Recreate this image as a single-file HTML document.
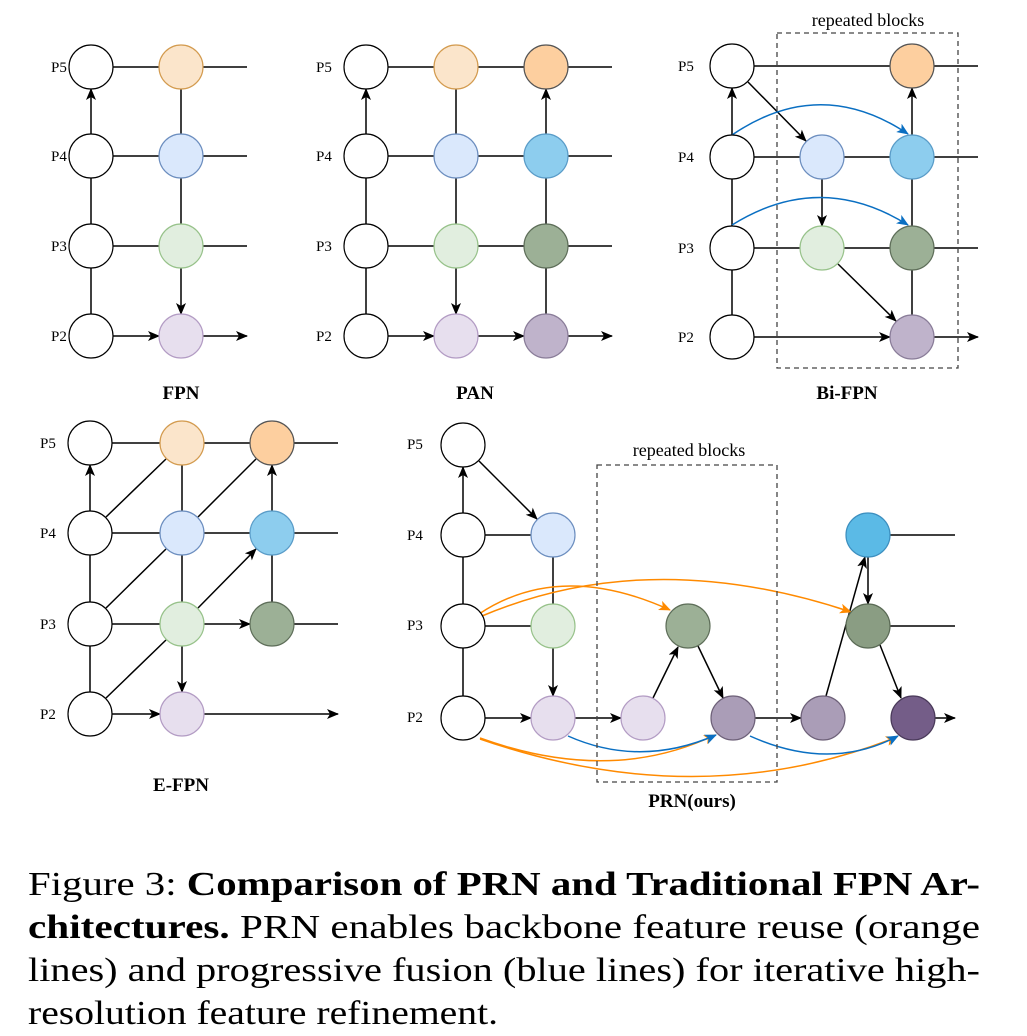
<!DOCTYPE html>
<html><head><meta charset="utf-8"><style>
html,body{margin:0;padding:0;background:#fff;}
svg{display:block;font-family:"Liberation Serif",serif;}
</style></head><body>
<svg width="1027" height="1036" viewBox="0 0 1027 1036" xmlns="http://www.w3.org/2000/svg">
<defs>
<marker id="a" markerWidth="12" markerHeight="10" refX="11" refY="5" orient="auto" markerUnits="userSpaceOnUse"><path d="M0,0 L12,5 L0,10 L3,5 Z" fill="#000"/></marker>
<marker id="ao" markerWidth="12" markerHeight="10" refX="11" refY="5" orient="auto" markerUnits="userSpaceOnUse"><path d="M0,0 L12,5 L0,10 L3,5 Z" fill="#ff8a00"/></marker>
<marker id="ab" markerWidth="12" markerHeight="10" refX="11" refY="5" orient="auto" markerUnits="userSpaceOnUse"><path d="M0,0 L12,5 L0,10 L3,5 Z" fill="#0a6fc2"/></marker>
</defs>
<g stroke="#000" stroke-width="1.5" fill="none" marker-end="url(#a)">
<!-- FPN -->
<path d="M91,314V268M91,224V178M91,134V89"/>
<path d="M113,67H159M113,156H159M113,246H159M113,336H159"/>
<path d="M181,89V134M181,178V224M181,268V314"/>
<path d="M203,67H247M203,156H247M203,246H247M203,336H247"/>
<!-- PAN -->
<path d="M366,314V268M366,224V178M366,134V89"/>
<path d="M388,67H434M388,156H434M388,246H434M388,336H434"/>
<path d="M456,89V134M456,178V224M456,268V314"/>
<path d="M478,67H524M478,156H524M478,246H524M478,336H524"/>
<path d="M546,314V268M546,224V178M546,134V89"/>
<path d="M568,67H612M568,156H612M568,246H612M568,336H612"/>
<!-- BiFPN -->
<path d="M732,315V270M732,226V179M732,135V88"/>
<path d="M754,66H890M754,157H800M844,157H890M754,248H800M844,248H890M754,337H890"/>
<path d="M748,82L806,141"/>
<path d="M822,179V226"/>
<path d="M838,264L896,321"/>
<path d="M912,315V270M912,226V179M912,135V88"/>
<path d="M934,66H978M934,157H978M934,248H978M934,337H978"/>
<!-- E-FPN -->
<path d="M90,692V646M90,602V555M90,511V465"/>
<path d="M112,443H160M112,533H160M112,624H160M112,714H160"/>
<path d="M204,443H250M204,533H250M204,624H250"/>
<path d="M294,443H338M294,533H338M294,624H338M204,714H338"/>
<path d="M182,465V511M182,555V602M182,646V692"/>
<path d="M272,602V555M272,511V465"/>
<path d="M106,517L166,459M106,608L166,549M106,698L166,640M198,517L256,459M198,608L256,549"/>
<!-- PRN -->
<path d="M463,696V648M463,604V557M463,513V467"/>
<path d="M479,461L537,519"/>
<path d="M485,535H531M485,626H531M485,718H531"/>
<path d="M553,557V604M553,648V696"/>
<path d="M575,718H621"/>
<path d="M653,698L678,647"/>
<path d="M698,646L723,698"/>
<path d="M755,718H801"/>
<path d="M826,696L865,557"/>
<path d="M868,557V604"/>
<path d="M880,645L901,698"/>
<path d="M890,535H955M890,626H955M935,718H955"/>
</g>
<!-- curves -->
<g fill="none" stroke-width="1.5">
<path d="M732,135Q820,75 908,134" stroke="#0a6fc2" marker-end="url(#ab)"/>
<path d="M732,225Q820,170 908,225" stroke="#0a6fc2" marker-end="url(#ab)"/>
<path d="M479,614Q560,560 670,610" stroke="#ff8a00" marker-end="url(#ao)"/>
<path d="M482,616Q650,545 851,612" stroke="#ff8a00" marker-end="url(#ao)"/>
<path d="M480,738Q610,785 715,735" stroke="#ff8a00" marker-end="url(#ao)"/>
<path d="M480,739Q700,815 897,737" stroke="#ff8a00" marker-end="url(#ao)"/>
<path d="M568,736Q640,768 716,735" stroke="#0a6fc2" marker-end="url(#ab)"/>
<path d="M750,736Q830,772 898,736" stroke="#0a6fc2" marker-end="url(#ab)"/>
</g>
<!-- dashed boxes -->
<g fill="none" stroke="#444" stroke-width="1.3" stroke-dasharray="5,4">
<rect x="777" y="33" width="181" height="335"/>
<rect x="597" y="465" width="180" height="317"/>
</g>
<!-- nodes -->
<g stroke-width="1.2">
<g fill="#fff" stroke="#000">
<circle cx="91" cy="67" r="22"/><circle cx="91" cy="156" r="22"/><circle cx="91" cy="246" r="22"/><circle cx="91" cy="336" r="22"/>
<circle cx="366" cy="67" r="22"/><circle cx="366" cy="156" r="22"/><circle cx="366" cy="246" r="22"/><circle cx="366" cy="336" r="22"/>
<circle cx="732" cy="66" r="22"/><circle cx="732" cy="157" r="22"/><circle cx="732" cy="248" r="22"/><circle cx="732" cy="337" r="22"/>
<circle cx="90" cy="443" r="22"/><circle cx="90" cy="533" r="22"/><circle cx="90" cy="624" r="22"/><circle cx="90" cy="714" r="22"/>
<circle cx="463" cy="445" r="22"/><circle cx="463" cy="535" r="22"/><circle cx="463" cy="626" r="22"/><circle cx="463" cy="718" r="22"/>
</g>
<g fill="#fbe5cb" stroke="#d39b4f"><circle cx="181" cy="67" r="22"/><circle cx="456" cy="67" r="22"/><circle cx="182" cy="443" r="22"/></g>
<g fill="#dae8fc" stroke="#6c8ebf"><circle cx="181" cy="156" r="22"/><circle cx="456" cy="156" r="22"/><circle cx="822" cy="157" r="22"/><circle cx="182" cy="533" r="22"/><circle cx="553" cy="535" r="22"/></g>
<g fill="#e1eedf" stroke="#97c28a"><circle cx="181" cy="246" r="22"/><circle cx="456" cy="246" r="22"/><circle cx="822" cy="248" r="22"/><circle cx="182" cy="624" r="22"/><circle cx="553" cy="626" r="22"/></g>
<g fill="#e7dfee" stroke="#b39cc4"><circle cx="181" cy="336" r="22"/><circle cx="456" cy="336" r="22"/><circle cx="182" cy="714" r="22"/><circle cx="553" cy="718" r="22"/><circle cx="643" cy="718" r="22"/></g>
<g fill="#fdcf9f" stroke="#555"><circle cx="546" cy="67" r="22"/><circle cx="912" cy="66" r="22"/><circle cx="272" cy="443" r="22"/></g>
<g fill="#8dcdee" stroke="#5a9cc8"><circle cx="546" cy="156" r="22"/><circle cx="912" cy="157" r="22"/><circle cx="272" cy="533" r="22"/></g>
<g fill="#9cb096" stroke="#5e6e59"><circle cx="546" cy="246" r="22"/><circle cx="912" cy="248" r="22"/><circle cx="272" cy="624" r="22"/><circle cx="688" cy="626" r="22"/></g>
<g fill="#bfb3cb" stroke="#8a7d99"><circle cx="546" cy="336" r="22"/><circle cx="912" cy="337" r="22"/></g>
<g fill="#aa9db7" stroke="#6e6179"><circle cx="733" cy="718" r="22"/><circle cx="823" cy="718" r="22"/></g>
<circle cx="868" cy="535" r="22" fill="#5bbae6" stroke="#3d8fbf"/>
<circle cx="868" cy="626" r="22" fill="#8a9d83" stroke="#5a6a55"/>
<circle cx="913" cy="718" r="22" fill="#745d88" stroke="#4a3a5a"/>
</g>
<!-- labels -->
<g font-size="15" fill="#000">
<text x="51" y="72">P5</text><text x="51" y="161">P4</text><text x="51" y="251">P3</text><text x="51" y="341">P2</text>
<text x="316" y="72">P5</text><text x="316" y="161">P4</text><text x="316" y="251">P3</text><text x="316" y="341">P2</text>
<text x="678" y="71">P5</text><text x="678" y="162">P4</text><text x="678" y="253">P3</text><text x="678" y="342">P2</text>
<text x="40" y="448">P5</text><text x="40" y="538">P4</text><text x="40" y="629">P3</text><text x="40" y="719">P2</text>
<text x="407" y="449">P5</text><text x="407" y="540">P4</text><text x="407" y="630">P3</text><text x="407" y="722">P2</text>
</g>
<g font-size="18" text-anchor="middle">
<text x="868" y="26">repeated blocks</text>
<text x="689" y="456">repeated blocks</text>
</g>
<g font-size="19" font-weight="bold" text-anchor="middle">
<text x="181" y="399">FPN</text><text x="475" y="399">PAN</text><text x="847" y="399">Bi-FPN</text>
<text x="181" y="791">E-FPN</text><text x="692" y="807">PRN(ours)</text>
</g>
<g font-size="34">
<text x="28" y="895" textLength="952" lengthAdjust="spacingAndGlyphs">Figure 3: <tspan font-weight="bold">Comparison of PRN and Traditional FPN Ar-</tspan></text>
<text x="28" y="938" textLength="952" lengthAdjust="spacingAndGlyphs"><tspan font-weight="bold">chitectures.</tspan> PRN enables backbone feature reuse (orange</text>
<text x="28" y="981" textLength="952" lengthAdjust="spacingAndGlyphs">lines) and progressive fusion (blue lines) for iterative high-</text>
<text x="28" y="1024" textLength="470" lengthAdjust="spacingAndGlyphs">resolution feature refinement.</text>
</g>
</svg>
</body></html>
